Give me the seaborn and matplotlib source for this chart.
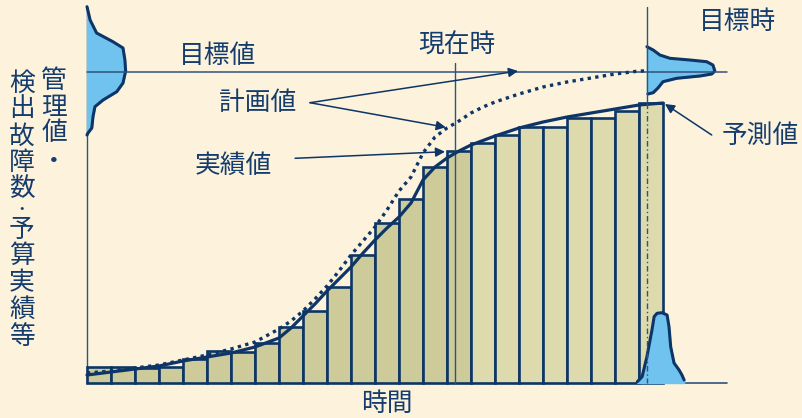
import numpy as np
import pandas as pd
import matplotlib.pyplot as plt
import seaborn as sns

sns.set_style("white")
plt.rcParams["font.family"] = ["Noto Sans CJK JP", "DejaVu Sans"]

# ===============================
# データ (時間 = 期間, 値 = 管理値)
# ===============================
actual_vals = [16, 16, 15, 16, 24, 32, 31, 40, 56, 72, 96, 128, 160, 184, 216, 232]
forecast_vals = [240, 248, 256, 256, 265, 265, 272, 280]

# 実績値・予測値の曲線
real_t = [0, 1, 2, 3, 4, 5, 6, 7, 8, 8.5, 9, 9.5, 10, 10.5, 11, 11.5, 12, 12.5,
          13, 13.5, 14, 14.5, 15, 15.5, 16, 17, 18, 19, 20, 21, 22, 23, 24]
real_v = [8, 11, 14, 17, 22, 26, 30, 36, 45, 55, 67, 79, 92, 104, 116, 130, 143, 155,
          166, 180, 203, 216, 225, 232, 238, 247, 255, 261, 266, 270, 274, 278, 280]

# 計画値の曲線
plan_t = [0, 1, 2, 3, 4, 5, 6, 7, 8, 8.5, 9, 9.5, 10, 10.5, 11, 11.5, 12, 12.5,
          13, 13.5, 14, 14.5, 15, 15.5, 16, 16.5, 17, 17.5, 18, 19, 20, 21, 22, 23, 23.3]
plan_v = [10, 12, 15, 18, 23, 28, 34, 41, 54, 62, 72, 84, 97, 112, 128, 142, 156, 173,
          192, 206, 230, 246, 255, 262, 270, 276, 281, 285, 289, 296, 301, 305, 309, 312, 312]

target_value = 311.5
now_t = 15.33
target_t = 23.33
axis_end_t = 26.67

# 目標値の分布 (左)
left_v = [376.3, 363, 350, 341.3, 335, 323, 312, 300, 291.3, 283, 276.3, 266.3, 255, 250, 248]
left_w = [0, 0.13, 0.4, 1.08, 1.5, 1.58, 1.61, 1.5, 1.24, 0.67, 0.33, 0.25, 0.2, 0.04, 0]

# 目標時の分布 (右上)
right_v = [336.3, 333, 328, 324.7, 323, 321.3, 318, 312, 309, 307, 304.7, 301.3, 295, 290.3, 289]
right_w = [0, 0.26, 0.54, 0.96, 1.79, 2.49, 2.75, 2.83, 2.70, 2.21, 1.24, 0.67, 0.46, 0.26, 0.04]

# 目標時の分布 (下)
bottom_t = [22.93, 23.13, 23.33, 23.54, 23.63, 23.75, 23.96, 24.17, 24.25, 24.32, 24.46, 24.67, 24.79, 24.88]
bottom_v = [1.3, 6.3, 26.3, 53, 66.3, 69.7, 70.3, 68, 56.3, 36.3, 20, 13, 8, 3]

labels = {
    "target": "目標値", "plan": "計画値", "real": "実績値", "now": "現在時",
    "target_t": "目標時", "forecast": "予測値", "time": "時間",
}
ylabel_right = "管理値・"
ylabel_left = "検出故障数・予算実績等"

NAVY = "#0d3567"
TEXT = "#143c6e"
THIN = "#2f527f"
BG = "#fdf3dc"

bars = pd.DataFrame({
    "t": np.arange(len(actual_vals) + len(forecast_vals)) + 0.5,
    "値": actual_vals + forecast_vals,
    "区分": ["実績"] * len(actual_vals) + ["予測"] * len(forecast_vals),
})

# ===============================
# 描画
# ===============================
fig = plt.figure(figsize=(8.03, 4.18), dpi=100, facecolor=BG)
ax = fig.add_axes([0, 0, 1, 1])
ax.set_facecolor(BG)

sns.barplot(data=bars, x="t", y="値", hue="区分",
            palette={"実績": "#cccb99", "予測": "#dddaae"}, saturation=1,
            native_scale=True, width=1, dodge=False, legend=False,
            edgecolor=NAVY, linewidth=1.9, ax=ax, zorder=2)

# 軸・補助線
ax.plot([0, axis_end_t], [0, 0], color=THIN, lw=1.2, zorder=1)
ax.plot([0, 0], [376, 0], color=THIN, lw=1.0, zorder=1)
ax.plot([0, axis_end_t], [target_value, target_value], color=THIN, lw=1.1, zorder=4)
ax.plot([now_t, now_t], [320, 0], color=THIN, lw=1.0, zorder=4)
ax.plot([target_t, target_t], [376, 280], color=THIN, lw=1.0, zorder=4)
ax.plot([target_t, target_t], [280, 0], color=THIN, lw=1.0, ls=(0, (4, 2, 1, 2)), zorder=6)

# 曲線
sns.lineplot(x=real_t, y=real_v, color=NAVY, lw=2.3, ax=ax, zorder=5)
sns.lineplot(x=plan_t, y=plan_v, color=NAVY, lw=2.4, ls=(0, (1, 1.3)), ax=ax, zorder=5)

# 分布
ax.fill_betweenx(left_v, 0, left_w, color="#6fc3ee", zorder=3)
ax.plot(left_w, left_v, color=NAVY, lw=2.2, zorder=3)
ax.fill_betweenx(right_v, target_t, np.array(right_w) + target_t, color="#6fc3ee", zorder=3)
ax.plot(np.array(right_w) + target_t, right_v, color=NAVY, lw=2.2, zorder=3)
ax.fill_between(bottom_t, 0, bottom_v, color="#6fc3ee", zorder=3)
ax.plot(bottom_t, bottom_v, color=NAVY, lw=2.2, zorder=3)

# 矢印
arrow = dict(arrowstyle="-|>", color=NAVY, lw=1.1, mutation_scale=14, shrinkA=0, shrinkB=0)
ax.annotate("", xy=(17.96, 312), xytext=(9.29, 280.3), arrowprops=arrow, zorder=7)
ax.annotate("", xy=(14.95, 255.7), xytext=(9.29, 280.3), arrowprops=arrow, zorder=7)
ax.annotate("", xy=(14.92, 231.3), xytext=(8.67, 224.7), arrowprops=arrow, zorder=7)
ax.annotate("", xy=(24.08, 279), xytext=(26.03, 248), arrowprops=arrow, zorder=7)

# テキスト
fs = 18.5
ax.text(5.46, 327, labels["target"], fontsize=fs, color=TEXT, ha="center", va="center")
ax.text(7.12, 280.5, labels["plan"], fontsize=fs, color=TEXT, ha="center", va="center")
ax.text(6.08, 217, labels["real"], fontsize=fs, color=TEXT, ha="center", va="center")
ax.text(15.42, 337, labels["now"], fontsize=fs, color=TEXT, ha="center", va="center")
ax.text(27.12, 361, labels["target_t"], fontsize=fs, color=TEXT, ha="center", va="center")
ax.text(28.04, 247, labels["forecast"], fontsize=fs, color=TEXT, ha="center", va="center")
ax.text(12.5, -20.5, labels["time"], fontsize=fs, color=TEXT, ha="center", va="center")

# 縦書きの軸ラベル
for ch, v in zip(ylabel_right, [301.5, 275.5, 249.5, 221]):
    ax.text(-1.375, v, ch, fontsize=fs, color=TEXT, ha="center", va="center")
left_pos = [299.5, 274, 246, 220.5, 194, 173, 153, 127, 100, 73.5, 46.5]
for ch, v in zip(ylabel_left, left_pos):
    ax.text(-2.71, v, ch, fontsize=9 if ch == "・" else fs, fontweight="bold" if ch == "・" else "normal",
            color=TEXT, ha="center", va="center")

ax.set_xlim(-87 / 24, 716 / 24)
ax.set_ylim(-35, 383)
ax.axis("off")

fig.savefig("out.png", dpi=100, facecolor=BG)
